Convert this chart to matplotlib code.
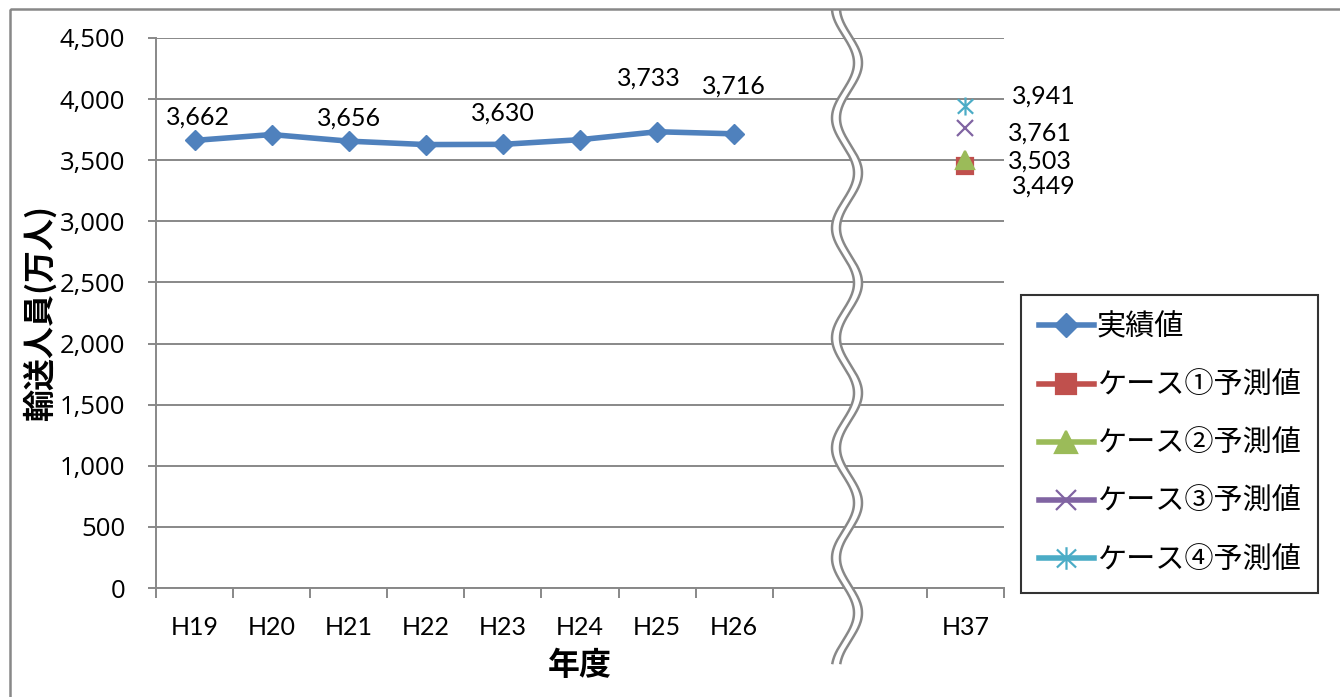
import numpy as np
import matplotlib.pyplot as plt
from matplotlib.path import Path
from matplotlib.patches import Rectangle
from matplotlib.ticker import FuncFormatter, FixedLocator

plt.rcParams['font.family'] = ['Lato', 'Noto Sans CJK JP', 'DejaVu Sans']

# 年度と輸送人員（万人）
years = ['H19', 'H20', 'H21', 'H22', 'H23', 'H24', 'H25', 'H26', '', '', 'H37']
actual = [3662, 3710, 3656, 3628, 3630, 3668, 3733, 3716]
labeled_idx = [0, 2, 4, 6, 7]

case_names = ['ケース①予測値', 'ケース②予測値', 'ケース③予測値', 'ケース④予測値']
case_values = [3449, 3503, 3761, 3941]

blue = '#4F81BD'
case_colors = ['#C0504D', '#9BBB59', '#8064A2', '#4BACC6']
grid_gray = '#888888'

# 米印マーカー（×に縦線）
star = Path([(0, -1), (0, 1), (-0.85, -0.8), (0.85, 0.8), (-0.85, 0.8), (0.85, -0.8)],
            [Path.MOVETO, Path.LINETO] * 3)
case_markers = ['s', '^', 'x', star]
case_msize = [12, 13, 12, 13]

fig = plt.figure(figsize=(13.4, 6.97), dpi=100)
ax = fig.add_axes([156 / 1340, 1 - 588 / 697, (1004 - 156) / 1340, 550 / 697])

xs = np.arange(len(years))
ax.plot(xs[:len(actual)], actual, color=blue, lw=4, marker='D', ms=10,
        label='実績値', zorder=3)
for name, val, c, m, ms in zip(case_names, case_values, case_colors, case_markers, case_msize):
    ax.plot([xs[-1]], [val], color=c, lw=4, marker=m, ms=ms, mew=1.6,
            label=name, zorder=3)

# データラベル
act_offsets = {0: (3, 23), 2: (0, 23), 4: (0, 31), 6: (-8, 54), 7: (0, 48)}
for i in labeled_idx:
    dx, dy = act_offsets[i]
    ax.annotate(f'{actual[i]:,}', (xs[i], actual[i]), xytext=(dx, dy),
                textcoords='offset pixels', ha='center', va='center', fontsize=18)
case_offsets = [(47, -20), (43, -1), (43, -5), (47, 10)]
for val, (dx, dy) in zip(case_values, case_offsets):
    ax.annotate(f'{val:,}', (xs[-1], val), xytext=(dx, dy),
                textcoords='offset pixels', ha='left', va='center', fontsize=18)

ax.set_xlim(-0.5, len(years) - 0.5)
ax.set_ylim(0, 4500)
ax.set_yticks(np.arange(0, 4501, 500))
ax.yaxis.set_major_formatter(FuncFormatter(lambda v, p: f'{v:,.0f}'))
ax.grid(axis='y', color=grid_gray, lw=1.4)
ax.set_axisbelow(True)

ax.xaxis.set_major_locator(FixedLocator(np.arange(-0.5, len(years), 1.0)))
ax.xaxis.set_minor_locator(FixedLocator(xs))
ax.set_xticklabels([])
ax.set_xticklabels(years, minor=True)
ax.tick_params(axis='x', which='major', length=7, width=1.4, color=grid_gray)
ax.tick_params(axis='x', which='minor', length=0, pad=20, labelsize=18)
ax.tick_params(axis='y', length=6, width=1.4, color=grid_gray, pad=16)
for lab in ax.get_yticklabels():
    lab.set_fontfamily(['Open Sans'])
    lab.set_fontsize(18.5)

for s in ['top', 'right']:
    ax.spines[s].set_visible(False)
for s in ['left', 'bottom']:
    ax.spines[s].set_color(grid_gray)
    ax.spines[s].set_linewidth(1.4)

ax.set_ylabel('輸送人員(万人)', fontsize=23, fontweight='bold',
              family=['Noto Sans CJK JP'], labelpad=2)
ax.set_xlabel('年度', fontsize=23, fontweight='bold',
              family=['Noto Sans CJK JP'], labelpad=8)

leg = ax.legend(loc='upper left', bbox_to_anchor=(1021 / 1340, 1 - 295 / 697),
                bbox_transform=fig.transFigure, frameon=True, fancybox=False,
                prop={'family': 'Noto Sans CJK JP', 'size': 21},
                handlelength=1.9, handletextpad=0.1, labelspacing=0.97,
                borderpad=0.6, borderaxespad=0, markerscale=1.25)
leg.get_frame().set_edgecolor('black')
leg.get_frame().set_linewidth(1.5)

# 省略記号（波線）と外枠
ov = fig.add_axes([0, 0, 1, 1], zorder=5)
ov.set_xlim(0, 1340)
ov.set_ylim(697, 0)
ov.axis('off')
ov.patch.set_alpha(0)
yy = np.linspace(11, 663, 600)
w1 = 843 + 11 * np.cos(2 * np.pi * (yy - 63) / 110)
w2 = w1 + 8
ov.fill_betweenx(yy, w1, w2, color='white', lw=0)
ov.plot(w1, yy, color=grid_gray, lw=1.8)
ov.plot(w2, yy, color=grid_gray, lw=1.8)
ov.add_patch(Rectangle((10, 9), 1500, 900, fill=False, edgecolor=grid_gray, lw=1.8))

fig.savefig('out.png', dpi=100)
